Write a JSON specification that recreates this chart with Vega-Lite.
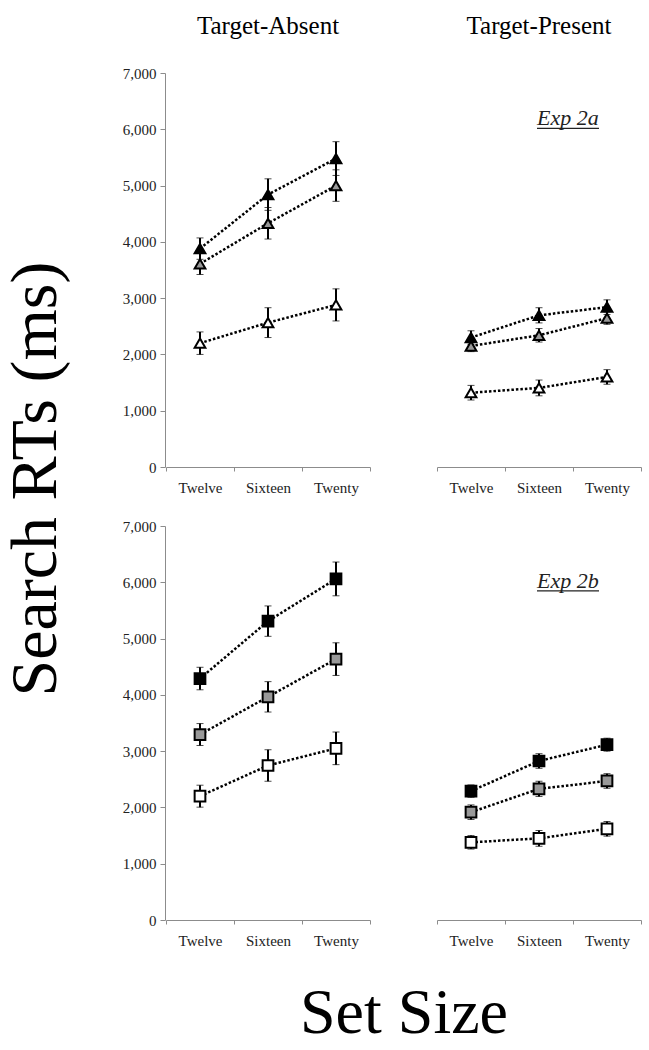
{
  "$schema": "https://vega.github.io/schema/vega-lite/v6.json",
  "padding": {"left": 3, "top": 14, "right": 5, "bottom": 5},
  "title": {"text": "Search RTs (ms)", "orient": "left", "anchor": "middle", "font": "Liberation Serif", "fontSize": 66, "fontWeight": "normal", "color": "black", "offset": 52, "dx": 51},
  "data": {"values": [
    {"kind": "pt", "exp": "Exp 2a", "cond": "Target-Absent", "level": "black", "size": "Twelve", "rt": 3880, "err": 190},
    {"kind": "pt", "exp": "Exp 2a", "cond": "Target-Absent", "level": "black", "size": "Sixteen", "rt": 4840, "err": 280},
    {"kind": "pt", "exp": "Exp 2a", "cond": "Target-Absent", "level": "black", "size": "Twenty", "rt": 5480, "err": 300},
    {"kind": "pt", "exp": "Exp 2a", "cond": "Target-Absent", "level": "gray", "size": "Twelve", "rt": 3610, "err": 190},
    {"kind": "pt", "exp": "Exp 2a", "cond": "Target-Absent", "level": "gray", "size": "Sixteen", "rt": 4330, "err": 280},
    {"kind": "pt", "exp": "Exp 2a", "cond": "Target-Absent", "level": "gray", "size": "Twenty", "rt": 5000, "err": 280},
    {"kind": "pt", "exp": "Exp 2a", "cond": "Target-Absent", "level": "white", "size": "Twelve", "rt": 2200, "err": 200},
    {"kind": "pt", "exp": "Exp 2a", "cond": "Target-Absent", "level": "white", "size": "Sixteen", "rt": 2565, "err": 265},
    {"kind": "pt", "exp": "Exp 2a", "cond": "Target-Absent", "level": "white", "size": "Twenty", "rt": 2880, "err": 285},
    {"kind": "pt", "exp": "Exp 2a", "cond": "Target-Present", "level": "black", "size": "Twelve", "rt": 2300, "err": 120},
    {"kind": "pt", "exp": "Exp 2a", "cond": "Target-Present", "level": "black", "size": "Sixteen", "rt": 2695, "err": 135},
    {"kind": "pt", "exp": "Exp 2a", "cond": "Target-Present", "level": "black", "size": "Twenty", "rt": 2840, "err": 130},
    {"kind": "pt", "exp": "Exp 2a", "cond": "Target-Present", "level": "gray", "size": "Twelve", "rt": 2150, "err": 100},
    {"kind": "pt", "exp": "Exp 2a", "cond": "Target-Present", "level": "gray", "size": "Sixteen", "rt": 2340, "err": 120},
    {"kind": "pt", "exp": "Exp 2a", "cond": "Target-Present", "level": "gray", "size": "Twenty", "rt": 2645, "err": 110},
    {"kind": "pt", "exp": "Exp 2a", "cond": "Target-Present", "level": "white", "size": "Twelve", "rt": 1320, "err": 130},
    {"kind": "pt", "exp": "Exp 2a", "cond": "Target-Present", "level": "white", "size": "Sixteen", "rt": 1405, "err": 140},
    {"kind": "pt", "exp": "Exp 2a", "cond": "Target-Present", "level": "white", "size": "Twenty", "rt": 1600, "err": 130},
    {"kind": "pt", "exp": "Exp 2b", "cond": "Target-Absent", "level": "black", "size": "Twelve", "rt": 4290, "err": 200},
    {"kind": "pt", "exp": "Exp 2b", "cond": "Target-Absent", "level": "black", "size": "Sixteen", "rt": 5310, "err": 270},
    {"kind": "pt", "exp": "Exp 2b", "cond": "Target-Absent", "level": "black", "size": "Twenty", "rt": 6060, "err": 300},
    {"kind": "pt", "exp": "Exp 2b", "cond": "Target-Absent", "level": "gray", "size": "Twelve", "rt": 3295, "err": 195},
    {"kind": "pt", "exp": "Exp 2b", "cond": "Target-Absent", "level": "gray", "size": "Sixteen", "rt": 3965, "err": 270},
    {"kind": "pt", "exp": "Exp 2b", "cond": "Target-Absent", "level": "gray", "size": "Twenty", "rt": 4635, "err": 290},
    {"kind": "pt", "exp": "Exp 2b", "cond": "Target-Absent", "level": "white", "size": "Twelve", "rt": 2200, "err": 195},
    {"kind": "pt", "exp": "Exp 2b", "cond": "Target-Absent", "level": "white", "size": "Sixteen", "rt": 2745, "err": 280},
    {"kind": "pt", "exp": "Exp 2b", "cond": "Target-Absent", "level": "white", "size": "Twenty", "rt": 3050, "err": 290},
    {"kind": "pt", "exp": "Exp 2b", "cond": "Target-Present", "level": "black", "size": "Twelve", "rt": 2290, "err": 110},
    {"kind": "pt", "exp": "Exp 2b", "cond": "Target-Present", "level": "black", "size": "Sixteen", "rt": 2825, "err": 130},
    {"kind": "pt", "exp": "Exp 2b", "cond": "Target-Present", "level": "black", "size": "Twenty", "rt": 3115, "err": 115},
    {"kind": "pt", "exp": "Exp 2b", "cond": "Target-Present", "level": "gray", "size": "Twelve", "rt": 1915, "err": 130},
    {"kind": "pt", "exp": "Exp 2b", "cond": "Target-Present", "level": "gray", "size": "Sixteen", "rt": 2330, "err": 135},
    {"kind": "pt", "exp": "Exp 2b", "cond": "Target-Present", "level": "gray", "size": "Twenty", "rt": 2470, "err": 130},
    {"kind": "pt", "exp": "Exp 2b", "cond": "Target-Present", "level": "white", "size": "Twelve", "rt": 1380, "err": 120},
    {"kind": "pt", "exp": "Exp 2b", "cond": "Target-Present", "level": "white", "size": "Sixteen", "rt": 1450, "err": 140},
    {"kind": "pt", "exp": "Exp 2b", "cond": "Target-Present", "level": "white", "size": "Twenty", "rt": 1620, "err": 130},
    {"kind": "ann", "exp": "Exp 2a", "cond": "Target-Present", "size": "Sixteen", "size2": "Twenty", "label": "Exp 2a", "rt": 6070},
    {"kind": "ann", "exp": "Exp 2b", "cond": "Target-Present", "size": "Sixteen", "size2": "Twenty", "label": "Exp 2b", "rt": 5900}
  ]},
  "facet": {
    "row": {"field": "exp", "type": "nominal", "title": null, "header": {"labels": false}},
    "column": {"field": "cond", "type": "nominal", "title": "Set Size",
      "header": {"labelOrient": "top", "titleOrient": "bottom", "labelFont": "Liberation Serif", "labelFontSize": 25, "labelColor": "black", "labelPadding": 34,
                 "titleFont": "Liberation Serif", "titleFontSize": 64, "titleFontWeight": "normal", "titleColor": "black", "titlePadding": 24}}
  },
  "spacing": {"row": 31, "column": 65},
  "resolve": {"axis": {"x": "independent"}},
  "spec": {
    "width": 204,
    "height": 394,
    "encoding": {
      "x": {"field": "size", "type": "nominal", "sort": ["Twelve", "Sixteen", "Twenty"], "title": null,
            "scale": {"paddingInner": 0, "paddingOuter": 0},
            "axis": {"labelAngle": 0, "tickBand": "extent", "tickSize": 4, "labelPadding": 9, "labelFont": "Liberation Serif", "labelFontSize": 15, "labelColor": "#222", "domainColor": "#8c8c8c", "tickColor": "#8c8c8c"}},
      "y": {"field": "rt", "type": "quantitative", "title": null,
            "scale": {"domain": [0, 7000], "nice": false},
            "axis": {"values": [0, 1000, 2000, 3000, 4000, 5000, 6000, 7000], "format": ",d", "grid": false, "tickSize": 5, "labelPadding": 4, "labelFont": "Liberation Serif", "labelFontSize": 15, "labelColor": "#222", "domainColor": "#8c8c8c", "tickColor": "#8c8c8c"}}
    },
    "layer": [
      {
        "transform": [{"filter": "datum.kind === 'pt'"}],
        "mark": {"type": "line", "color": "black", "strokeWidth": 2.5, "strokeDash": [2.5, 2]},
        "encoding": {"detail": {"field": "level"}}
      },
      {
        "transform": [{"filter": "datum.kind === 'pt'"}],
        "mark": {"type": "errorbar", "ticks": {"size": 7, "strokeWidth": 2, "color": "black"}, "rule": {"strokeWidth": 2, "color": "black"}},
        "encoding": {"yError": {"field": "err"}, "detail": {"field": "level"}}
      },
      {
        "transform": [{"filter": "datum.kind === 'pt'"}],
        "mark": {"type": "point", "filled": true, "stroke": "black", "strokeWidth": 2, "opacity": 1, "size": 115},
        "encoding": {
          "shape": {"field": "exp", "scale": {"domain": ["Exp 2a", "Exp 2b"], "range": ["triangle-up", "square"]}, "legend": null},
          "fill": {"field": "level", "scale": {"domain": ["black", "gray", "white"], "range": ["black", "#999999", "white"]}, "legend": null}
        }
      },
      {
        "transform": [{"filter": "datum.kind === 'ann'"}],
        "mark": {"type": "text", "align": "left", "baseline": "alphabetic", "font": "Liberation Serif", "fontStyle": "italic", "fontSize": 22, "color": "#222", "dx": -2},
        "encoding": {"text": {"field": "label"}}
      },
      {
        "transform": [{"filter": "datum.kind === 'ann'"}],
        "mark": {"type": "rule", "color": "#222", "strokeWidth": 1.2, "yOffset": 3, "xOffset": -2, "x2Offset": -8},
        "encoding": {"x2": {"field": "size2"}}
      }
    ]
  },
  "config": {"view": {"stroke": null}}
}
